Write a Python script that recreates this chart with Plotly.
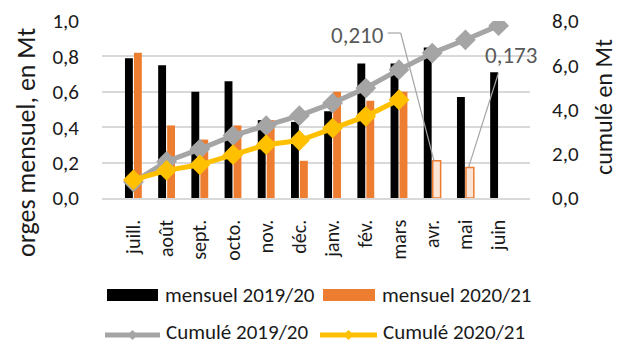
import plotly.graph_objects as go

# Monthly deliveries (Mt) and running totals (Mt), campaign July -> June
mois = ["juill.", "août", "sept.", "octo.", "nov.", "déc.",
        "janv.", "fév.", "mars", "avr.", "mai", "juin"]
mensuel_2019_20 = [0.79, 0.75, 0.60, 0.66, 0.44, 0.43, 0.49, 0.76, 0.76, 0.85, 0.57, 0.71]
mensuel_2020_21 = [0.82, 0.41, 0.33, 0.41, 0.44, 0.21, 0.60, 0.55, 0.60, 0.210, 0.173, None]
cumul_2019_20 = [0.72, 1.65, 2.21, 2.82, 3.27, 3.72, 4.29, 4.97, 5.80, 6.55, 7.15, 7.79]
cumul_2020_21 = [0.82, 1.25, 1.50, 1.96, 2.41, 2.60, 3.16, 3.69, 4.44]
# months of 2020/21 that are estimates (drawn light with a value label)
estimes = ["avr.", "mai"]

FONT = "Carlito, Lato, sans-serif"
TXT = "#1a1a1a"
ORANGE = "#ed7d31"
ORANGE_LIGHT = "#fbe5d6"
GRAY = "#a5a5a5"
YELLOW = "#ffc000"
GRID = "#d9d9d9"

W, H = 618, 345
L, R, T, B = 102, 88, 21, 147
PW, PH = W - L - R, H - T - B
CW = PW / len(mois)
BARGAP = 0.46


def px_x(px):
    return (px - L) / PW


def px_y(py):
    return (T + PH - py) / PH


def px_cat(px):
    return (px - L) / CW - 0.5


fig = go.Figure()

fig.add_bar(x=mois, y=mensuel_2019_20, name="mensuel 2019/20",
            marker=dict(color="#000000", line=dict(width=0)))

col21 = [ORANGE_LIGHT if m in estimes else ORANGE for m in mois]
lw21 = [1.5 if m in estimes else 0 for m in mois]
fig.add_bar(x=mois, y=mensuel_2020_21, name="mensuel 2020/21",
            marker=dict(color=col21, line=dict(color=ORANGE, width=lw21)))

fig.add_scatter(x=mois, y=cumul_2019_20, yaxis="y2", name="Cumulé 2019/20",
                mode="lines+markers", line=dict(color=GRAY, width=5),
                marker=dict(symbol="diamond", size=16, color=GRAY))
fig.add_scatter(x=mois[:len(cumul_2020_21)], y=cumul_2020_21, yaxis="y2",
                name="Cumulé 2020/21", mode="lines+markers",
                line=dict(color=YELLOW, width=5),
                marker=dict(symbol="diamond", size=16, color=YELLOW))

fig.update_layout(
    width=W, height=H,
    margin=dict(l=L, r=R, t=T, b=B, autoexpand=False),
    paper_bgcolor="white", plot_bgcolor="white",
    separators=", ",
    showlegend=False,
    barmode="group", bargap=BARGAP, bargroupgap=0.12,
    font=dict(family=FONT, color=TXT, size=20),
    xaxis=dict(type="category", categoryorder="array", categoryarray=mois,
               tickangle=-90, tickfont=dict(size=20), showgrid=False,
               showline=True, linecolor=GRID, linewidth=1.5, ticks="",
               zeroline=False, ticklabelstandoff=12, automargin=False),
    yaxis=dict(range=[0, 1], dtick=0.2, tickformat=".1f", showgrid=True,
               gridcolor=GRID, gridwidth=1.5, zeroline=False, showline=False,
               tickfont=dict(size=21), ticklabelstandoff=22, automargin=False),
    yaxis2=dict(range=[0, 8], dtick=2, tickformat=".1f", overlaying="y",
                side="right", showgrid=False, zeroline=False, showline=False,
                tickfont=dict(size=21), ticklabelstandoff=21, automargin=False),
)


def note(text, px, py, size, color=TXT, angle=0, anchor="center"):
    fig.add_annotation(text=text, xref="paper", yref="paper",
                       x=px_x(px), y=px_y(py), textangle=angle, showarrow=False,
                       font=dict(size=size, color=color),
                       xanchor=anchor, yanchor="middle")


# axis titles
note("orges mensuel, en Mt", 26, 142, 26, angle=-90)
note("cumulé en Mt", 603, 107, 24, angle=-90)

# value labels of the estimated months, with leader lines to the bars
i_avr, i_mai = mois.index("avr."), mois.index("mai")
off21 = (1 - BARGAP) / 4
note(f"{mensuel_2020_21[i_avr]:.3f}".replace(".", ","), 357, 35, 23, color="#595959")
note(f"{mensuel_2020_21[i_mai]:.3f}".replace(".", ","), 511, 55, 23, color="#595959")
leader = dict(color=GRAY, width=1.2)
fig.add_shape(type="line", xref="x", yref="y", x0=px_cat(393), y0=px_y(33),
              x1=px_cat(407), y1=px_y(33), line=leader)
fig.add_shape(type="line", xref="x", yref="y", x0=px_cat(407), y0=px_y(33),
              x1=i_avr + off21 - 0.08, y1=mensuel_2020_21[i_avr], line=leader)
fig.add_shape(type="line", xref="x", yref="y", x0=px_cat(512), y0=px_y(73),
              x1=i_mai + off21 - 0.04, y1=mensuel_2020_21[i_mai], line=leader)


# legend, laid out in two rows
def legend_box(x0, x1, yc, color, label):
    fig.add_shape(type="rect", xref="paper", yref="paper",
                  x0=px_x(x0), x1=px_x(x1), y0=px_y(yc + 6), y1=px_y(yc - 6),
                  fillcolor=color, line=dict(width=0))
    note(label, x1 + 5, yc, 21, anchor="left")


def legend_line(x0, x1, yc, color, label):
    fig.add_shape(type="line", xref="paper", yref="paper",
                  x0=px_x(x0), x1=px_x(x1), y0=px_y(yc), y1=px_y(yc),
                  line=dict(color=color, width=5))
    xm = (x0 + x1) / 2
    d = 5
    path = (f"M {px_x(xm - d)},{px_y(yc)} L {px_x(xm)},{px_y(yc - d)} "
            f"L {px_x(xm + d)},{px_y(yc)} L {px_x(xm)},{px_y(yc + d)} Z")
    fig.add_shape(type="path", xref="paper", yref="paper", path=path,
                  fillcolor=color, line=dict(width=0))
    note(label, x1 + 4, yc - 3, 21, anchor="left")


legend_box(107, 158, 295, "#000000", "mensuel 2019/20")
legend_box(323, 375, 295, ORANGE, "mensuel 2020/21")
legend_line(105, 160, 335, GRAY, "Cumulé 2019/20")
legend_line(320, 377, 335, YELLOW, "Cumulé 2020/21")

fig.write_html("out.html")
